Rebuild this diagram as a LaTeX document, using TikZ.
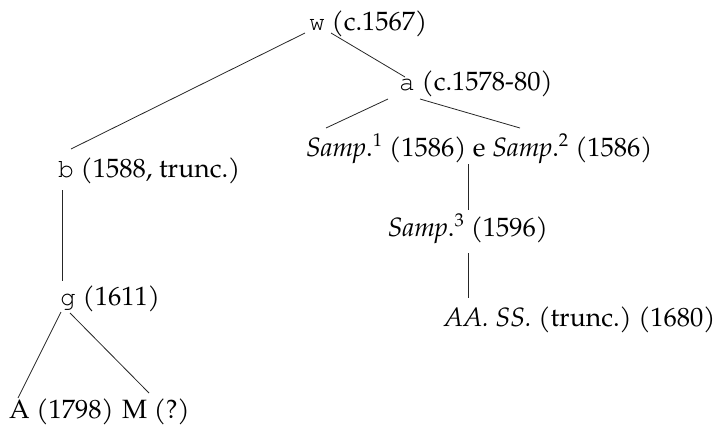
\documentclass[tikz,border=0pt]{standalone}
\usepackage{fontspec}
\setmainfont{texgyrepagella}[Extension=.otf,UprightFont=*-regular,ItalicFont=*-italic,BoldFont=*-bold,BoldItalicFont=*-bolditalic]
\setmonofont{texgyrecursor}[Extension=.otf,UprightFont=*-regular]
\frenchspacing
\begin{document}
\begin{tikzpicture}[x=1pt,y=-1pt,
  lbl/.style={inner sep=0pt,anchor=base west,font=\fontsize{26.5}{31}\selectfont},
  lbc/.style={inner sep=0pt,anchor=base,font=\fontsize{26.5}{31}\selectfont},
  link/.style={line width=0.8pt,draw=black!85}]
\useasboundingbox (0,0) rectangle (718,426);

% manuscript witnesses
\node[lbl] (w)  at (309,30)  {\texttt{w} (c.1567)};
\node[lbl] (a)  at (399,90)  {\texttt{a} (c.1578-80)};
\node[lbl] (s12) at (306,156) {\textit{Samp}.\textsuperscript{1} (1586) e \textit{Samp}.\textsuperscript{2} (1586)};
\node[lbl] (b)  at (58,177)  {\texttt{b} (1588, trunc.)};
\node[lbc] (s3) at (468,236) {\textit{Samp}.\textsuperscript{3} (1596)};
\node[lbl] (g)  at (60,305)  {\texttt{g} (1611)};
\node[lbl] (aass) at (444,326) {\textit{AA. SS.} (trunc.) (1680)};
\node[lbl] (A)  at (9,418)   {A (1798)};
\node[lbl] (M)  at (122,418) {M (?)};

% lines of descent
\draw[link] ([shift={(-4,3)}]w.base west) -- ([shift={(13,-28)}]b.base west);
\draw[link] ([shift={(22,3)}]w.base west) -- ([shift={(6,-13)}]a.base west);
\draw[link] ([shift={(-11,9)}]a.base west) -- ([shift={(20,-28)}]s12.base west);
\draw[link] ([shift={(21,9)}]a.base west) -- ([shift={(214,-28)}]s12.base west);
\draw[link] ([shift={(162,8)}]s12.base west) -- ([shift={(0,-26)}]s3.base);
\draw[link] ([shift={(0,17)}]s3.base) -- ([shift={(24,-28)}]aass.base west);
\draw[link] ([shift={(4,13)}]b.base west) -- ([shift={(2,-24)}]g.base west);
\draw[link] ([shift={(1,7)}]g.base west) -- ([shift={(9,-20)}]A.base west);
\draw[link] ([shift={(10,8)}]g.base west) -- ([shift={(27,-25)}]M.base west);
\end{tikzpicture}
\end{document}
